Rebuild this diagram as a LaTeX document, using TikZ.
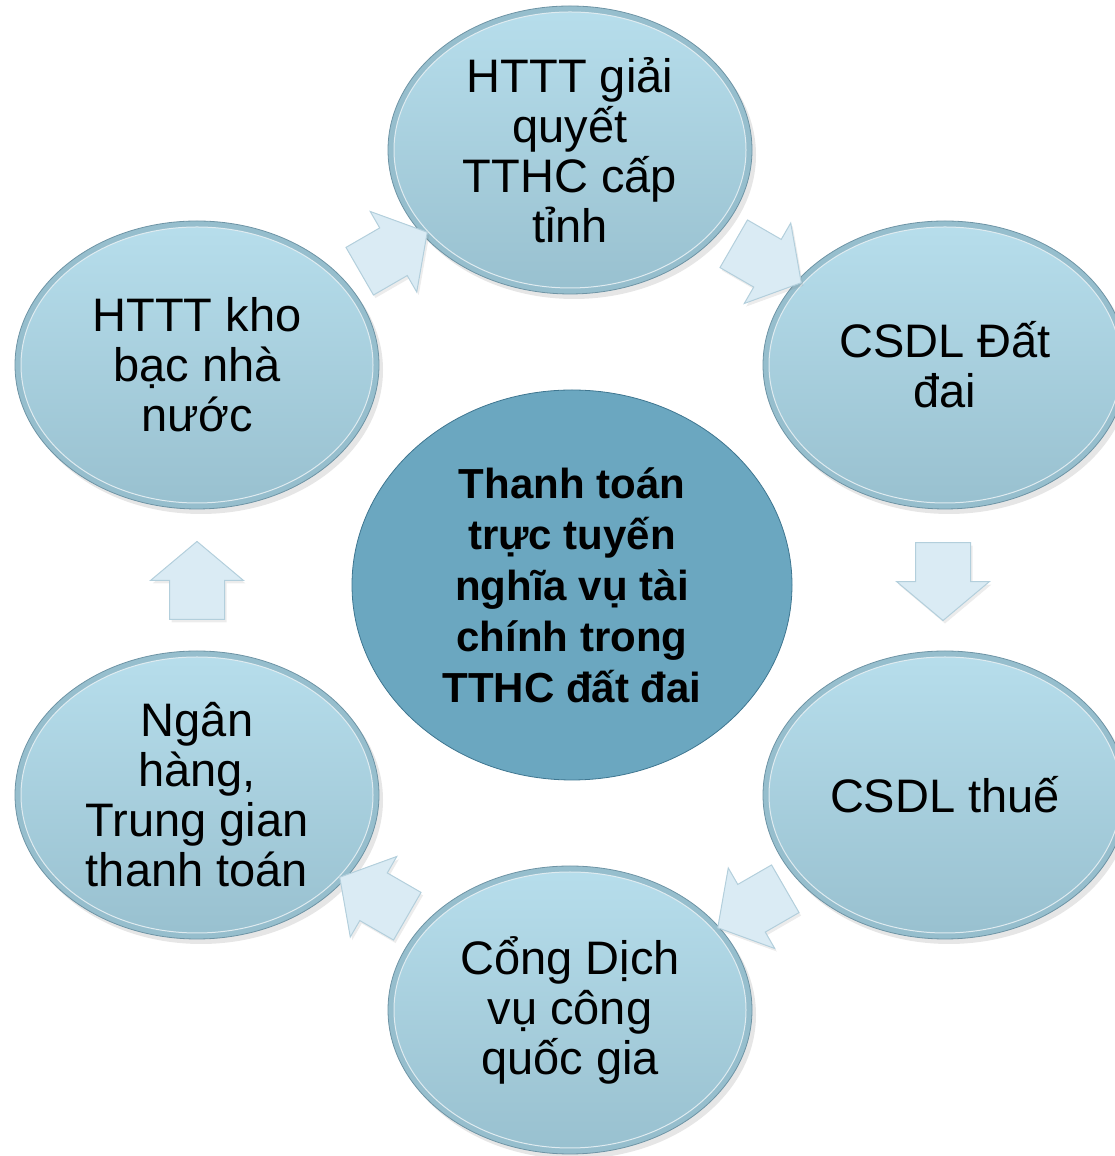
\documentclass[tikz,border=0pt]{standalone}
\usepackage{fontspec}
\setmainfont{Liberation Sans}
\usepackage{xcolor}
\usepackage{tikz}
\usetikzlibrary{shapes.geometric, shapes.arrows, arrows.meta, positioning, calc, shadows}
\definecolor{bubrim}{RGB}{150,190,205}
\definecolor{bubline}{RGB}{110,148,165}
\definecolor{bubtop}{RGB}{183,222,236}
\definecolor{bubbot}{RGB}{152,192,207}
\definecolor{hubfill}{RGB}{107,167,192}
\definecolor{hubline}{RGB}{63,118,144}
\definecolor{arrfill}{RGB}{218,235,244}
\definecolor{arrline}{RGB}{179,207,220}
\tikzset{
  bubble/.style={ellipse, draw=bubline, fill=bubrim, line width=0.8pt,
    minimum width=364pt, minimum height=288pt, inner sep=0pt, align=center,
    font=\fontsize{47}{50}\selectfont,
    drop shadow={opacity=0.2, shadow xshift=4pt, shadow yshift=-5pt},
    path picture={
      \shade[top color=bubtop, bottom color=bubbot, draw=white!70!bubrim, line width=1pt]
        (path picture bounding box.center) ellipse (176pt and 138pt);
    }},
  hub/.style={ellipse, draw=hubline, fill=hubfill, line width=0.8pt,
    minimum width=440pt, minimum height=390pt, inner sep=0pt, align=center,
    font=\fontsize{42}{51}\selectfont\bfseries},
  flowarrow/.style={single arrow, draw=arrline, fill=arrfill, line width=1pt,
    minimum height=78pt, inner xsep=0pt, inner ysep=27pt,
    single arrow head extend=19pt, single arrow tip angle=100,
    drop shadow={opacity=0.15, shadow xshift=2pt, shadow yshift=-3pt}}
}
\begin{document}
\begin{tikzpicture}[x=1pt, y=1pt]
  \useasboundingbox (0,0) rectangle (1114,1156);

  % centre
  \node[hub] (hub) at (572,571) {Thanh toán\\trực tuyến\\nghĩa vụ tài\\chính trong\\TTHC đất đai};

  % outer ring
  \node[bubble] (tthc) at (570,1006) {HTTT giải\\quyết\\TTHC cấp\\tỉnh};
  \node[bubble] (datdai) at (945,791) {CSDL Đất\\đai};
  \node[bubble] (thue) at (945,361) {CSDL thuế};
  \node[bubble] (cong) at (570,146) {Cổng Dịch\\vụ công\\quốc gia};
  \node[bubble] (nganhang) at (197,361) {Ngân\\hàng,\\Trung gian\\thanh toán};
  \node[bubble] (khobac) at (197,791) {HTTT kho\\bạc nhà\\nước};

  % block arrows between neighbours
  \node[flowarrow, rotate=30] (a1) at ($(khobac)!0.5!(tthc)$) {};
  \node[flowarrow, rotate=-30] (a2) at ($(tthc)!0.5!(datdai)$) {};
  \node[flowarrow, rotate=-90] (a3) at ($(datdai)!0.5!(thue)+(-2,10)$) {};
  \node[flowarrow, rotate=-150] (a4) at ($(thue)!0.5!(cong)+(4,0)$) {};
  \node[flowarrow, rotate=150] (a5) at ($(cong)!0.5!(nganhang)$) {};
  \node[flowarrow, rotate=90] (a6) at ($(nganhang)!0.5!(khobac)+(0,-12)$) {};
\end{tikzpicture}
\end{document}
